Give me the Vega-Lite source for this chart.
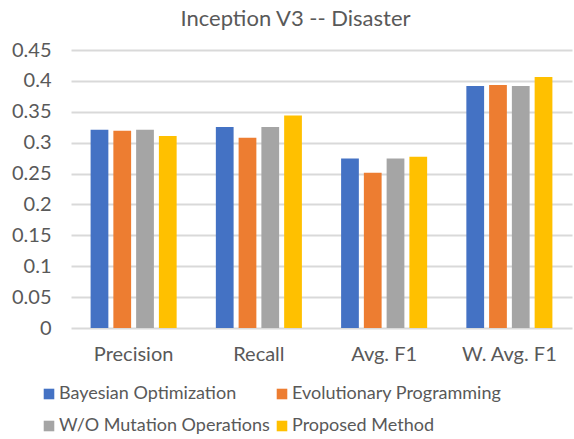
{
  "$schema": "https://vega.github.io/schema/vega-lite/v6.json",
  "width": 501,
  "height": 278,
  "autosize": "none",
  "padding": {"left": 71, "top": 50, "right": 2, "bottom": 111},
  "background": "white",
  "title": {
    "text": "Inception V3 -- Disaster",
    "font": "Lato",
    "fontSize": 22,
    "fontWeight": "normal",
    "color": "#595959",
    "anchor": "middle",
    "dx": -26,
    "offset": 9
  },
  "config": {
    "view": {"stroke": null},
    "font": "Lato"
  },
  "data": {
    "values": [
      {"metric": "Precision", "method": "Bayesian Optimization", "value": 0.321},
      {"metric": "Precision", "method": "Evolutionary Programming", "value": 0.3194},
      {"metric": "Precision", "method": "W/O Mutation Operations", "value": 0.321},
      {"metric": "Precision", "method": "Proposed Method", "value": 0.3108},
      {"metric": "Recall", "method": "Bayesian Optimization", "value": 0.3254},
      {"metric": "Recall", "method": "Evolutionary Programming", "value": 0.308},
      {"metric": "Recall", "method": "W/O Mutation Operations", "value": 0.3254},
      {"metric": "Recall", "method": "Proposed Method", "value": 0.344},
      {"metric": "Avg. F1", "method": "Bayesian Optimization", "value": 0.2745},
      {"metric": "Avg. F1", "method": "Evolutionary Programming", "value": 0.2514},
      {"metric": "Avg. F1", "method": "W/O Mutation Operations", "value": 0.2745},
      {"metric": "Avg. F1", "method": "Proposed Method", "value": 0.2773},
      {"metric": "W. Avg. F1", "method": "Bayesian Optimization", "value": 0.3917},
      {"metric": "W. Avg. F1", "method": "Evolutionary Programming", "value": 0.3933},
      {"metric": "W. Avg. F1", "method": "W/O Mutation Operations", "value": 0.3917},
      {"metric": "W. Avg. F1", "method": "Proposed Method", "value": 0.4063}
    ]
  },
  "mark": {"type": "bar"},
  "encoding": {
    "x": {
      "field": "metric",
      "type": "nominal",
      "sort": ["Precision", "Recall", "Avg. F1", "W. Avg. F1"],
      "scale": {"paddingInner": 0.313, "paddingOuter": 0.1565},
      "axis": {
        "title": null,
        "labelAngle": 0,
        "labelFontSize": 20,
        "labelColor": "#595959",
        "labelPadding": 16,
        "domain": false,
        "ticks": false
      }
    },
    "xOffset": {
      "field": "method",
      "type": "nominal",
      "sort": ["Bayesian Optimization", "Evolutionary Programming", "W/O Mutation Operations", "Proposed Method"],
      "scale": {"paddingInner": 0.22, "paddingOuter": 0}
    },
    "y": {
      "field": "value",
      "type": "quantitative",
      "scale": {"domain": [0, 0.45], "nice": false},
      "axis": {
        "title": null,
        "values": [0, 0.05, 0.1, 0.15, 0.2, 0.25, 0.3, 0.35, 0.4, 0.45],
        "format": "~g",
        "labelFontSize": 20,
        "labelColor": "#595959",
        "labelPadding": 20,
        "domain": false,
        "ticks": false,
        "grid": true,
        "gridColor": "#D9D9D9",
        "gridWidth": 2
      }
    },
    "color": {
      "field": "method",
      "type": "nominal",
      "sort": ["Bayesian Optimization", "Evolutionary Programming", "W/O Mutation Operations", "Proposed Method"],
      "scale": {
        "domain": ["Bayesian Optimization", "Evolutionary Programming", "W/O Mutation Operations", "Proposed Method"],
        "range": ["#4472C4", "#ED7D31", "#A5A5A5", "#FFC000"]
      },
      "legend": {
        "title": null,
        "orient": "none",
        "legendX": -31,
        "legendY": 335,
        "direction": "horizontal",
        "columns": 2,
        "columnPadding": 3,
        "rowPadding": 14,
        "symbolType": "square",
        "symbolSize": 112,
        "symbolStrokeWidth": 0,
        "symbolOffset": 0,
        "labelOffset": 1,
        "labelFontSize": 18,
        "labelColor": "#595959",
        "labelLimit": 400
      }
    }
  }
}
